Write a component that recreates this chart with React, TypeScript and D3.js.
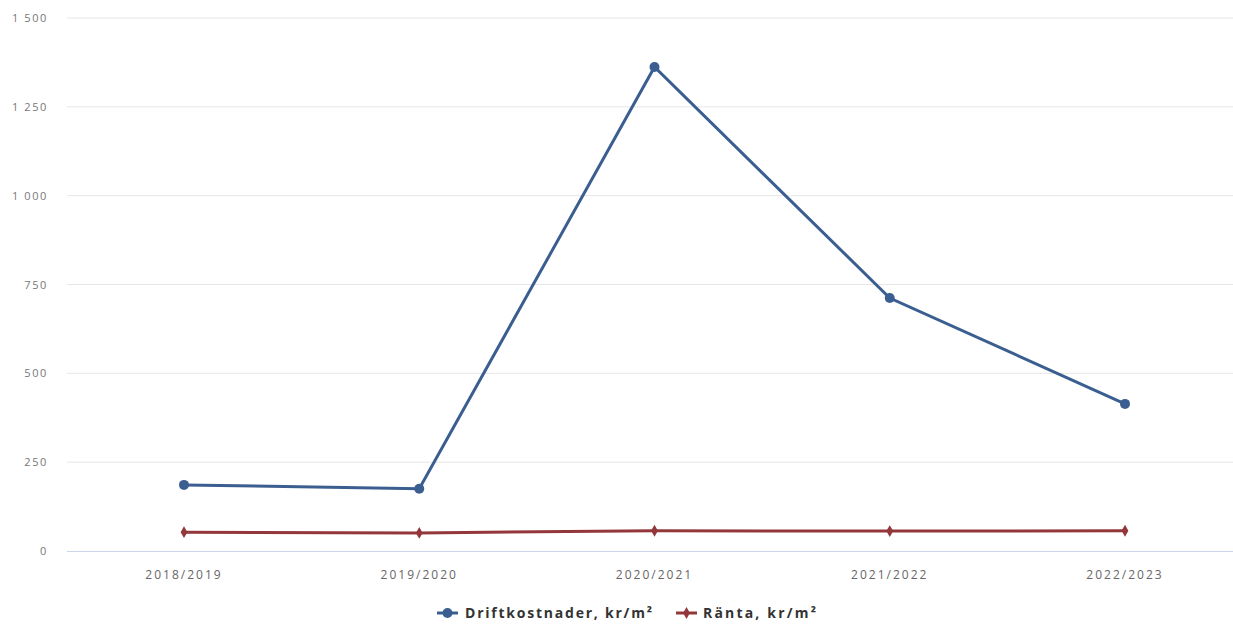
import React from "react";
import * as d3 from "d3";

const categories = ["2018/2019", "2019/2020", "2020/2021", "2021/2022", "2022/2023"];
const driftkostnader = [186, 175, 1362, 712, 414];
const ranta = [53, 51, 57, 56, 57];
const yTicks = [0, 250, 500, 750, 1000, 1250, 1500];
const seriesNames = ["Driftkostnader, kr/m²", "Ränta, kr/m²"];

const W = 1233;
const H = 624;
const plotLeft = 67;
const plotRight = 1233;
const plotTop = 18;
const plotBottom = 551;

const blue = "#3b5e91";
const red = "#93373a";

export default function App() {
  const x = d3.scalePoint<string>().domain(categories).range([184, 1125]);
  const y = d3.scaleLinear().domain([0, 1500]).range([plotBottom, plotTop]);
  const line = d3
    .line<number>()
    .x((_, i) => x(categories[i]) as number)
    .y((d) => y(d));
  const fmt = (v: number) => d3.format(",")(v).replace(/,/g, " ");
  const diamond = d3.symbol().type(d3.symbolDiamond).size(40)() as string;
  const font = "'Open Sans', 'DejaVu Sans', sans-serif";

  return (
    <svg
      width={W}
      height={H}
      style={{ position: "absolute", left: 0, top: 0, background: "#fff" }}
      fontFamily={font}
    >
      {yTicks.map((t) => (
        <g key={t}>
          {t > 0 && (
            <line x1={plotLeft} x2={plotRight} y1={y(t)} y2={y(t)} stroke="#e6e6e6" strokeWidth={1} />
          )}
          <text x={48} y={y(t) + 4} textAnchor="end" fontSize={11} fill="#777" letterSpacing={1.6}>
            {fmt(t)}
          </text>
        </g>
      ))}
      <line x1={plotLeft} x2={plotRight} y1={plotBottom + 0.5} y2={plotBottom + 0.5} stroke="#ccd6eb" strokeWidth={1} />
      {categories.map((c) => (
        <text key={c} x={x(c)} y={579} textAnchor="middle" fontSize={12} fill="#666" letterSpacing={2}>
          {c}
        </text>
      ))}
      <path d={line(ranta) as string} fill="none" stroke={red} strokeWidth={3} />
      {ranta.map((v, i) => (
        <path key={i} d={diamond} transform={`translate(${x(categories[i])},${y(v)})`} fill={red} />
      ))}
      <path d={line(driftkostnader) as string} fill="none" stroke={blue} strokeWidth={3} />
      {driftkostnader.map((v, i) => (
        <circle key={i} cx={x(categories[i])} cy={y(v)} r={5} fill={blue} />
      ))}
      <g>
        <line x1={437} x2={458} y1={613} y2={613} stroke={blue} strokeWidth={3} />
        <circle cx={447.5} cy={613} r={5} fill={blue} />
        <text x={465} y={618} fontSize={14} fontWeight="bold" fill="#333" textLength={187} lengthAdjust="spacing">
          {seriesNames[0]}
        </text>
        <line x1={676} x2={697} y1={613} y2={613} stroke={red} strokeWidth={3} />
        <path d={diamond} transform="translate(686.5,613)" fill={red} />
        <text x={703} y={618} fontSize={14} fontWeight="bold" fill="#333" textLength={113} lengthAdjust="spacing">
          {seriesNames[1]}
        </text>
      </g>
    </svg>
  );
}
